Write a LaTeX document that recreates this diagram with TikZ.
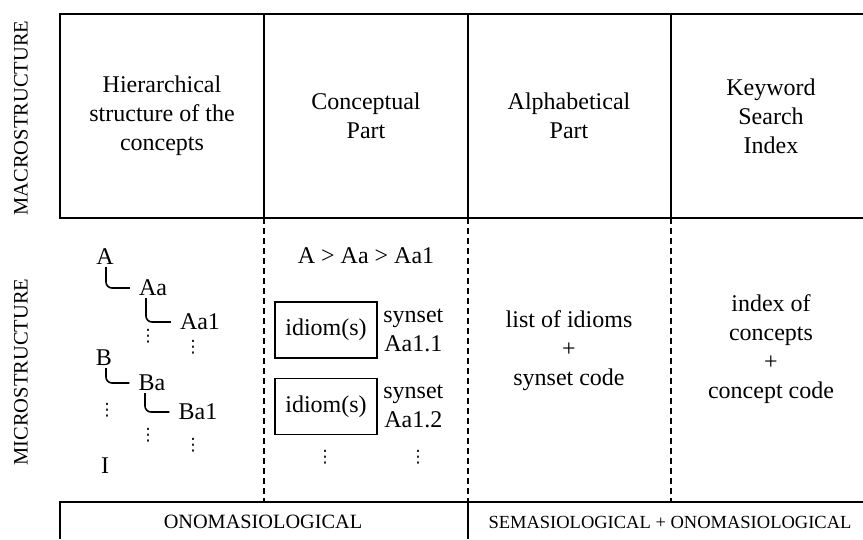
\documentclass[tikz,border=0pt]{standalone}
\usepackage{fontspec}
\setmainfont{Liberation Serif}
\newfontfamily\dotsfont{DejaVu Sans}
\usepackage{tikz}
\usetikzlibrary{positioning}
\tikzset{
    cell text/.style={
        align=center,
        font=\fontsize{24}{29}\selectfont
    },
    tree text/.style={
        inner sep=2pt,
        font=\fontsize{24}{29}\selectfont
    },
    side label/.style={
        rotate=90,
        font=\fontsize{20.5}{22}\selectfont
    },
    foot label/.style={
        font=\fontsize{#1}{22}\selectfont
    },
    idiom box/.style={
        draw,
        line width=1.6pt,
        minimum width=102pt,
        minimum height=56pt,
        font=\fontsize{24}{29}\selectfont
    },
    dots/.style={
        inner sep=0pt,
        font=\dotsfont\fontsize{17}{17}\selectfont
    },
    solid rule/.style={line width=2pt},
    dash rule/.style={line width=2pt, dash pattern=on 6pt off 4pt},
    hook/.style={line width=1.6pt, rounded corners=6pt, shorten >=7pt}
}
\begin{document}
\begin{tikzpicture}[x=1pt,y=-1pt]
  \useasboundingbox (0,0) rectangle (863,539);
  % frame of the table
  \draw[solid rule] (863,14) -- (60,14) -- (60,218) -- (863,218);
  \foreach \x in {264,468,671}
    \draw[solid rule] (\x,14) -- (\x,218);
  \foreach \x in {264,468,671}
    \draw[dash rule] (\x,218) -- (\x,502);
  \draw[solid rule] (863,502) -- (60,502) -- (60,539);
  \draw[solid rule] (468,502) -- (468,539);
  % row labels
  \node[side label] (macro) at (21,118) {MACROSTRUCTURE};
  \node[side label] (micro) at (21,372) {MICROSTRUCTURE};
  % macrostructure
  \node[cell text] (hier) at (162,116) {Hierarchical\\structure of the\\concepts};
  \node[cell text] (concpart) at (366,116) {Conceptual\\Part};
  \node[cell text] (alphpart) at (569,116) {Alphabetical\\Part};
  \node[cell text] (kwindex) at (771,116) {Keyword\\Search\\Index};
  % hierarchy of concepts
  \node[tree text] (A) at (105,257) {A};
  \node[tree text] (Aa) at (153,288) {Aa};
  \node[tree text] (Aa1) at (200,322) {Aa1};
  \node[tree text] (B) at (104,358) {B};
  \node[tree text] (Ba) at (152,383) {Ba};
  \node[tree text] (Ba1) at (198,412) {Ba1};
  \node[tree text] (I) at (105,466) {I};
  \draw[hook] ([xshift=1pt]A.south) |- (Aa.west);
  \draw[hook] ([xshift=-7pt]Aa.south) |- (Aa1.west);
  \draw[hook] ([xshift=2pt]B.south) |- (Ba.west);
  \draw[hook] ([xshift=-7pt]Ba.south) |- (Ba1.west);
  % conceptual part
  \node[cell text] (path) at (366,256) {A > Aa > Aa1};
  \node[idiom box] (idiom1) at (326,330) {idiom(s)};
  \node[cell text, right=2pt of idiom1] (syn1) {synset\\Aa1.1};
  \node[idiom box, below=19pt of idiom1] (idiom2) {idiom(s)};
  \node[cell text, right=2pt of idiom2] (syn2) {synset\\Aa1.2};
  \foreach \px/\py/\nm in {148/336/d1,193/347/d2,107/410/d3,148/435/d4,193/445/d5,325/457/d6,418/457/d7}
    \node[dots] (\nm) at (\px,\py) {⋮};
  % alphabetical part and index
  \node[cell text] (idlist) at (569,351) {list of idioms\\+\\synset code};
  \node[cell text] (conindex) at (771,349) {index of\\concepts\\+\\concept code};
  % approach
  \node[foot label=20.3] (onom) at (263,522) {ONOMASIOLOGICAL};
  \node[foot label=18.5] (semonom) at (670,522) {SEMASIOLOGICAL + ONOMASIOLOGICAL};
\end{tikzpicture}
\end{document}
